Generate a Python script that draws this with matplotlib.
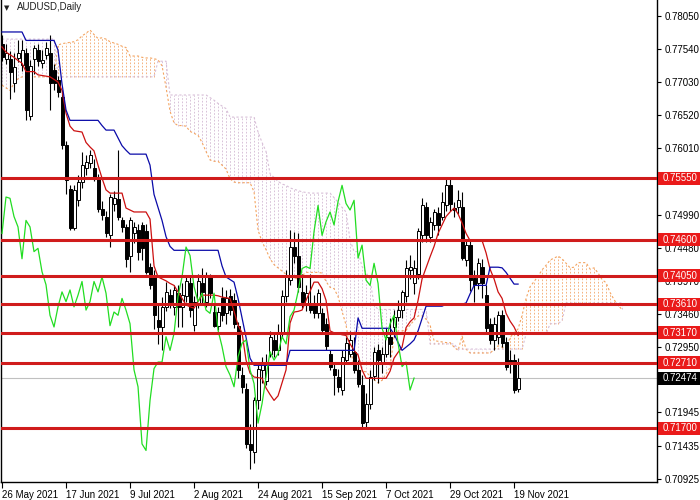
import numpy as np
import matplotlib
matplotlib.use("Agg")
import matplotlib.pyplot as plt
from matplotlib.patches import Rectangle
from matplotlib.transforms import blended_transform_factory

plt.rcParams['font.family'] = ['Liberation Sans', 'DejaVu Sans']

# AUDUSD daily bars, 26 May 2021 .. 22 Nov 2021 (bar index 0..129)
opens = [0.7762, 0.7739, 0.7739, 0.7701, 0.7740, 0.7729, 0.7747, 0.7650, 0.7739, 0.7752,
         0.7732, 0.7745, 0.7747, 0.7721, 0.7706, 0.7680, 0.7606, 0.7539, 0.7478, 0.7521,
         0.7549, 0.7570, 0.7578, 0.7570, 0.7557, 0.7508, 0.7496, 0.7467, 0.7516, 0.7523,
         0.7490, 0.7480, 0.7435, 0.7470, 0.7475, 0.7483, 0.7473, 0.7419, 0.7403, 0.7337,
         0.7326, 0.7357, 0.7375, 0.7357, 0.7378, 0.7357, 0.7373, 0.7393, 0.7329, 0.7362,
         0.7393, 0.7365, 0.7403, 0.7349, 0.7328, 0.7370, 0.7347, 0.7373, 0.7367, 0.7328,
         0.7252, 0.7231, 0.7146, 0.7134, 0.7213, 0.7260, 0.7243, 0.7285, 0.7306, 0.7290,
         0.7316, 0.7373, 0.7398, 0.7449, 0.7436, 0.7380, 0.7362, 0.7362, 0.7360, 0.7347,
         0.7347, 0.7331, 0.7285, 0.7262, 0.7249, 0.7229, 0.7275, 0.7285, 0.7288, 0.7260,
         0.7236, 0.7180, 0.7208, 0.7250, 0.7291, 0.7270, 0.7285, 0.7311, 0.7326, 0.7342,
         0.7352, 0.7373, 0.7414, 0.7393, 0.7408, 0.7467, 0.7511, 0.7465, 0.7483, 0.7501,
         0.7496, 0.7514, 0.7544, 0.7509, 0.7511, 0.7511, 0.7429, 0.7452, 0.7401, 0.7393,
         0.7419, 0.7375, 0.7331, 0.7306, 0.7311, 0.7344, 0.7303, 0.7275, 0.7275, 0.7231]
highs = [0.7775, 0.7762, 0.7750, 0.7747, 0.7767, 0.7767, 0.7755, 0.7737, 0.7760, 0.7762,
         0.7752, 0.7765, 0.7775, 0.7730, 0.7712, 0.7690, 0.7612, 0.7545, 0.7545, 0.7560,
         0.7596, 0.7590, 0.7598, 0.7585, 0.7562, 0.7520, 0.7505, 0.7530, 0.7535, 0.7598,
         0.7495, 0.7485, 0.7496, 0.7488, 0.7485, 0.7488, 0.7485, 0.7425, 0.7414, 0.7362,
         0.7372, 0.7395, 0.7385, 0.7390, 0.7390, 0.7393, 0.7404, 0.7404, 0.7373, 0.7408,
         0.7416, 0.7411, 0.7408, 0.7362, 0.7357, 0.7388, 0.7383, 0.7385, 0.7378, 0.7334,
         0.7265, 0.7240, 0.7177, 0.7219, 0.7268, 0.7280, 0.7285, 0.7320, 0.7318, 0.7330,
         0.7383, 0.7413, 0.7475, 0.7472, 0.7470, 0.7408, 0.7390, 0.7408, 0.7375, 0.7385,
         0.7355, 0.7340, 0.7291, 0.7270, 0.7262, 0.7290, 0.7311, 0.7320, 0.7311, 0.7275,
         0.7252, 0.7224, 0.7260, 0.7295, 0.7300, 0.7295, 0.7325, 0.7340, 0.7352, 0.7367,
         0.7383, 0.7429, 0.7437, 0.7429, 0.7478, 0.7524, 0.7519, 0.7496, 0.7508, 0.7511,
         0.7534, 0.7555, 0.7555, 0.7518, 0.7537, 0.7534, 0.7460, 0.7462, 0.7413, 0.7432,
         0.7430, 0.7390, 0.7340, 0.7342, 0.7350, 0.7352, 0.7310, 0.7290, 0.7285, 0.7278]
lows = [0.7735, 0.7730, 0.7677, 0.7688, 0.7734, 0.7720, 0.7644, 0.7645, 0.7716, 0.7727,
        0.7725, 0.7738, 0.7660, 0.7690, 0.7680, 0.7600, 0.7530, 0.7476, 0.7475, 0.7512,
        0.7540, 0.7560, 0.7570, 0.7550, 0.7503, 0.7490, 0.7465, 0.7449, 0.7505, 0.7490,
        0.7472, 0.7419, 0.7411, 0.7455, 0.7429, 0.7429, 0.7408, 0.7385, 0.7323, 0.7300,
        0.7290, 0.7350, 0.7355, 0.7345, 0.7326, 0.7326, 0.7365, 0.7342, 0.7320, 0.7355,
        0.7362, 0.7357, 0.7370, 0.7326, 0.7321, 0.7335, 0.7331, 0.7345, 0.7325, 0.7247,
        0.7225, 0.7140, 0.7108, 0.7116, 0.7200, 0.7240, 0.7237, 0.7280, 0.7280, 0.7283,
        0.7310, 0.7365, 0.7390, 0.7425, 0.7380, 0.7355, 0.7350, 0.7348, 0.7340, 0.7340,
        0.7315, 0.7290, 0.7260, 0.7222, 0.7226, 0.7222, 0.7270, 0.7280, 0.7255, 0.7234,
        0.7172, 0.7172, 0.7200, 0.7245, 0.7240, 0.7255, 0.7280, 0.7280, 0.7310, 0.7335,
        0.7340, 0.7365, 0.7400, 0.7377, 0.7400, 0.7457, 0.7457, 0.7457, 0.7475, 0.7467,
        0.7490, 0.7505, 0.7505, 0.7495, 0.7500, 0.7429, 0.7420, 0.7382, 0.7365, 0.7385,
        0.7370, 0.7318, 0.7300, 0.7290, 0.7300, 0.7295, 0.7260, 0.7255, 0.7225, 0.7226]
closes = [0.7742, 0.7747, 0.7719, 0.7726, 0.7747, 0.7752, 0.7660, 0.7728, 0.7755, 0.7736,
          0.7737, 0.7755, 0.7701, 0.7701, 0.7688, 0.7606, 0.7552, 0.7478, 0.7537, 0.7549,
          0.7575, 0.7580, 0.7590, 0.7557, 0.7508, 0.7498, 0.7470, 0.7526, 0.7524, 0.7496,
          0.7480, 0.7431, 0.7490, 0.7480, 0.7442, 0.7447, 0.7411, 0.7391, 0.7344, 0.7326,
          0.7357, 0.7380, 0.7365, 0.7383, 0.7357, 0.7375, 0.7396, 0.7352, 0.7365, 0.7396,
          0.7380, 0.7403, 0.7378, 0.7328, 0.7349, 0.7344, 0.7370, 0.7352, 0.7331, 0.7260,
          0.7234, 0.7146, 0.7136, 0.7213, 0.7262, 0.7272, 0.7272, 0.7311, 0.7290, 0.7316,
          0.7373, 0.7403, 0.7449, 0.7436, 0.7388, 0.7365, 0.7378, 0.7352, 0.7347, 0.7378,
          0.7321, 0.7296, 0.7265, 0.7252, 0.7234, 0.7280, 0.7301, 0.7306, 0.7260, 0.7239,
          0.7178, 0.7208, 0.7249, 0.7288, 0.7275, 0.7285, 0.7311, 0.7300, 0.7342, 0.7352,
          0.7380, 0.7416, 0.7419, 0.7416, 0.7473, 0.7513, 0.7467, 0.7488, 0.7503, 0.7483,
          0.7519, 0.7544, 0.7516, 0.7506, 0.7521, 0.7432, 0.7452, 0.7398, 0.7390, 0.7424,
          0.7393, 0.7324, 0.7306, 0.7331, 0.7344, 0.7301, 0.7265, 0.7272, 0.7229, 0.72474]

# Ichimoku lines
tenkan = [0.7757, 0.7749, 0.7745, 0.7741, 0.7736, 0.7732, 0.7719, 0.7719, 0.7719, 0.7714,
          0.7713, 0.7712, 0.7711, 0.7707, 0.7703, 0.7690, 0.7655, 0.7635, 0.7628, 0.7627,
          0.7626, 0.7610, 0.7603, 0.7597, 0.7575, 0.7555, 0.7537, 0.7532, 0.7532, 0.7532,
          0.7532, 0.7509, 0.7506, 0.7503, 0.7503, 0.7503, 0.7503, 0.7492, 0.7420, 0.7403,
          0.7400, 0.7397, 0.7393, 0.7390, 0.7380, 0.7370, 0.7360, 0.7357, 0.7355, 0.7365,
          0.7375, 0.7375, 0.7375, 0.7375, 0.7374, 0.7372, 0.7371, 0.7370, 0.7350, 0.7329,
          0.7317, 0.7275, 0.7255, 0.7249, 0.7248, 0.7247, 0.7232, 0.7222, 0.7213, 0.7220,
          0.7240, 0.7260, 0.7332, 0.7349, 0.7350, 0.7352, 0.7367, 0.7381, 0.7395, 0.7395,
          0.7385, 0.7367, 0.7320, 0.7317, 0.7316, 0.7314, 0.7313, 0.7300, 0.7290, 0.7283,
          0.7260, 0.7247, 0.7247, 0.7247, 0.7247, 0.7247, 0.7247, 0.7258, 0.7278, 0.7287,
          0.7295, 0.7325, 0.7334, 0.7340, 0.7367, 0.7400, 0.7417, 0.7434, 0.7450, 0.7470,
          0.7483, 0.7496, 0.7503, 0.7509, 0.7500, 0.7486, 0.7470, 0.7459, 0.7459, 0.7459,
          0.7459, 0.7440, 0.7415, 0.7400, 0.7380, 0.7370, 0.7347, 0.7335, 0.7326, 0.7313]
kijun = [0.7780, 0.7780, 0.7780, 0.7780, 0.7780, 0.7780, 0.7767, 0.7767, 0.7767, 0.7767,
         0.7767, 0.7767, 0.7767, 0.7767, 0.7752, 0.7700, 0.7660, 0.7644, 0.7644, 0.7644,
         0.7644, 0.7644, 0.7644, 0.7644, 0.7644, 0.7636, 0.7629, 0.7629, 0.7629, 0.7617,
         0.7605, 0.7598, 0.7592, 0.7592, 0.7592, 0.7592, 0.7592, 0.7575, 0.7530, 0.7510,
         0.7490, 0.7465, 0.7450, 0.7444, 0.7444, 0.7444, 0.7444, 0.7444, 0.7444, 0.7444,
         0.7444, 0.7444, 0.7444, 0.7444, 0.7444, 0.7420, 0.7403, 0.7399, 0.7395, 0.7370,
         0.7340, 0.7310, 0.7278, 0.7267, 0.7267, 0.7267, 0.7267, 0.7267, 0.7267, 0.7267,
         0.7267, 0.7267, 0.7290, 0.7290, 0.7290, 0.7290, 0.7290, 0.7290, 0.7290, 0.7290,
         0.7290, 0.7290, 0.7290, 0.7290, 0.7290, 0.7290, 0.7290, 0.7290, 0.7290, 0.7340,
         0.7324, 0.7324, 0.7324, 0.7324, 0.7324, 0.7324, 0.7324, 0.7324, 0.7315, 0.7302,
         0.7290, 0.7295, 0.7300, 0.7306, 0.7320, 0.7339, 0.7358, 0.7358, 0.7358, 0.7358,
         0.7358, 0.7361, 0.7361, 0.7361, 0.7361, 0.7361, 0.7363, 0.7377, 0.7390, 0.7390,
         0.7390, 0.7390, 0.7418, 0.7418, 0.7418, 0.7417, 0.7410, 0.7401, 0.7392, 0.7392]
# senkou spans, bar index 0..155 (runs 26 bars past the last candle)
span_a = [0.7698, 0.7694, 0.7690, 0.7701, 0.7708, 0.7711, 0.7711, 0.7711, 0.7711, 0.7711,
          0.7711, 0.7711, 0.7711, 0.7711, 0.7760, 0.7762, 0.7763, 0.7764, 0.7765, 0.7768,
          0.7774, 0.7778, 0.7783, 0.7776, 0.7770, 0.7771, 0.7769, 0.7765, 0.7763, 0.7761,
          0.7758, 0.7756, 0.7743, 0.7743, 0.7743, 0.7741, 0.7740, 0.7740, 0.7739, 0.7737,
          0.7728, 0.7695, 0.7658, 0.7640, 0.7636, 0.7636, 0.7635, 0.7627, 0.7624, 0.7621,
          0.7610, 0.7596, 0.7583, 0.7581, 0.7581, 0.7575, 0.7569, 0.7554, 0.7549, 0.7548,
          0.7548, 0.7548, 0.7548, 0.7534, 0.7475, 0.7457, 0.7445, 0.7431, 0.7422, 0.7417,
          0.7412, 0.7407, 0.7402, 0.7401, 0.7400, 0.7405, 0.7410, 0.7410, 0.7410, 0.7410,
          0.7409, 0.7396, 0.7387, 0.7385, 0.7373, 0.7350, 0.7329, 0.7293, 0.7267, 0.7258,
          0.7258, 0.7257, 0.7250, 0.7245, 0.7240, 0.7244, 0.7254, 0.7264, 0.7311, 0.7320,
          0.7320, 0.7321, 0.7329, 0.7336, 0.7343, 0.7343, 0.7338, 0.7329, 0.7305, 0.7304,
          0.7303, 0.7302, 0.7302, 0.7295, 0.7290, 0.7312, 0.7292, 0.7286, 0.7286, 0.7286,
          0.7286, 0.7286, 0.7286, 0.7291, 0.7297, 0.7295, 0.7293, 0.7310, 0.7317, 0.7323,
          0.7344, 0.7370, 0.7388, 0.7396, 0.7404, 0.7414, 0.7421, 0.7429, 0.7432, 0.7435,
          0.7431, 0.7424, 0.7417, 0.7418, 0.7425, 0.7425, 0.7425, 0.7415, 0.7417, 0.7409,
          0.7399, 0.7394, 0.7379, 0.7368, 0.7359, 0.7353]
span_b = [0.7769, 0.7769, 0.7769, 0.7769, 0.7769, 0.7769, 0.7769, 0.7769, 0.7769, 0.7769,
          0.7769, 0.7769, 0.7769, 0.7769, 0.7711, 0.7711, 0.7711, 0.7711, 0.7711, 0.7711,
          0.7711, 0.7711, 0.7711, 0.7711, 0.7711, 0.7711, 0.7711, 0.7711, 0.7711, 0.7711,
          0.7711, 0.7711, 0.7711, 0.7711, 0.7711, 0.7711, 0.7711, 0.7711, 0.7711, 0.7735,
          0.7735, 0.7735, 0.7683, 0.7683, 0.7683, 0.7683, 0.7683, 0.7683, 0.7683, 0.7683,
          0.7683, 0.7683, 0.7679, 0.7675, 0.7670, 0.7666, 0.7662, 0.7649, 0.7649, 0.7649,
          0.7649, 0.7649, 0.7649, 0.7649, 0.7626, 0.7610, 0.7596, 0.7562, 0.7556, 0.7550,
          0.7546, 0.7544, 0.7540, 0.7538, 0.7536, 0.7534, 0.7533, 0.7532, 0.7532, 0.7532,
          0.7532, 0.7532, 0.7532, 0.7525, 0.7518, 0.7510, 0.7503, 0.7460, 0.7442, 0.7442,
          0.7419, 0.7410, 0.7399, 0.7360, 0.7353, 0.7353, 0.7353, 0.7353, 0.7353, 0.7353,
          0.7353, 0.7353, 0.7353, 0.7353, 0.7353, 0.7353, 0.7353, 0.7300, 0.7300, 0.7300,
          0.7300, 0.7300, 0.7300, 0.7300, 0.7292, 0.7292, 0.7292, 0.7292, 0.7292, 0.7292,
          0.7292, 0.7292, 0.7292, 0.7292, 0.7292, 0.7292, 0.7292, 0.7292, 0.7292, 0.7292,
          0.7292, 0.7315, 0.7315, 0.7315, 0.7315, 0.7315, 0.7315, 0.7331, 0.7331, 0.7331,
          0.7336, 0.7363, 0.7363, 0.7363, 0.7363, 0.7363, 0.7363, 0.7363, 0.7363, 0.7363,
          0.7363, 0.7363, 0.7363, 0.7363, 0.7363, 0.7363]
chikou_shift = 26

levels = [0.7555, 0.7460, 0.7405, 0.7361, 0.7317, 0.7271, 0.7170]
last_price = 0.72474
price_ticks = [0.78050, 0.77540, 0.77030, 0.76520, 0.76010, 0.75500, 0.74990, 0.74480,
               0.73970, 0.73460, 0.72950, 0.72440, 0.71945, 0.71435, 0.70925]
# tick labels fully covered by the level boxes are left blank
hidden_ticks = [0.75500, 0.72440]
date_ticks = [0, 16, 32, 48, 64, 80, 96, 112, 128]
date_labels = ['26 May 2021', '17 Jun 2021', '9 Jul 2021', '2 Aug 2021', '24 Aug 2021',
               '15 Sep 2021', '7 Oct 2021', '29 Oct 2021', '19 Nov 2021']

o = np.array(opens)
h = np.array(highs)
l = np.array(lows)
c = np.array(closes)
idx = np.arange(len(c))

fig = plt.figure(figsize=(7, 5), dpi=100)
ax = fig.add_axes([1 / 700, 18.5 / 500, 655.5 / 700, 481.5 / 500])
ax.set_xlim(-0.25, 163.6)
ax.set_ylim(0.70882, 0.78292)

# cloud: dotted vertical hatch per bar, colour by which span is on top
a = np.array(span_a)
b = np.array(span_b)
xs = np.arange(len(a))
up = a >= b
dot = (0, (2, 2))
ax.vlines(xs[up], b[up], a[up], colors='#f2a66a', linestyles=dot, lw=0.6, zorder=1)
ax.vlines(xs[~up], a[~up], b[~up], colors='#d2b8d2', linestyles=dot, lw=0.6, zorder=1)
ax.plot(xs, a, color='#f4a460', ls=dot, lw=0.8, zorder=1)
ax.plot(xs, b, color='#d8bfd8', ls=dot, lw=0.8, zorder=1)

# current price line
ax.axhline(last_price, color='#c0c0c0', lw=0.8, zorder=1.5)

# candles
ax.vlines(idx, l, h, color='black', lw=0.8, zorder=3)
bull = c >= o
ax.bar(idx[bull], np.maximum(c[bull] - o[bull], 0.00003), bottom=o[bull], width=0.75,
       color='white', edgecolor='black', lw=0.7, zorder=4)
ax.bar(idx[~bull], np.maximum(o[~bull] - c[~bull], 0.00003), bottom=c[~bull], width=0.75,
       color='black', edgecolor='black', lw=0.7, zorder=4)

# ichimoku lines
ax.plot(idx, tenkan, color='#cc1010', lw=0.9, zorder=5)
ax.plot(idx, kijun, color='#0a0aa8', lw=0.9, zorder=5)
ax.plot(idx[:-chikou_shift], c[chikou_shift:], color='#22dd22', lw=0.9, zorder=5)

# support / resistance levels
for lv in levels:
    ax.axhline(lv, color='#d01c1c', lw=2.2, zorder=6)

# axes styling
ax.spines['top'].set_visible(False)
for side in ['left', 'right', 'bottom']:
    ax.spines[side].set_color('black')
    ax.spines[side].set_linewidth(1.0)

ax.yaxis.tick_right()
ax.set_yticks(price_ticks)
ax.set_yticklabels(['' if t in hidden_ticks else '%.5f' % t for t in price_ticks])
ax.tick_params(axis='y', direction='out', length=3, width=0.8, labelsize=7, pad=3,
               colors='black')
ax.set_xticks(date_ticks)
ax.set_xticklabels(date_labels, ha='left')
ax.tick_params(axis='x', direction='out', length=4, width=0.8, labelsize=7, pad=2,
               colors='black')

# price labels on the right axis
trans = blended_transform_factory(ax.transAxes, ax.transData)
px = 0.00015389
x0 = 1.0 + 1 / 655.5
for lv in levels:
    ax.add_patch(Rectangle((x0, lv - 6.5 * px), 44 / 655.5, 13 * px, transform=trans,
                           facecolor='#ea1a1a', edgecolor='none', clip_on=False, zorder=10))
    ax.text(1.0 + 6 / 655.5, lv, '%.5f' % lv, transform=trans, ha='left', va='center',
            color='white', fontsize=7, zorder=11, clip_on=False)
ax.add_patch(Rectangle((x0, last_price - 6.5 * px), 44 / 655.5, 13 * px, transform=trans,
                       facecolor='black', edgecolor='none', clip_on=False, zorder=10))
ax.text(1.0 + 6 / 655.5, last_price, '%.5f' % last_price, transform=trans, ha='left',
        va='center', color='white', fontsize=7, zorder=11, clip_on=False)

# symbol caption
fig.text(4 / 700, 1 - 8 / 500, '\u25bc', fontsize=5, color='#202020', va='center',
         family='DejaVu Sans')
fig.text(17 / 700, 1 - 7 / 500, 'AUDUSD,Daily', fontsize=7, color='#202020', va='center')

fig.savefig('out.png', dpi=100)
